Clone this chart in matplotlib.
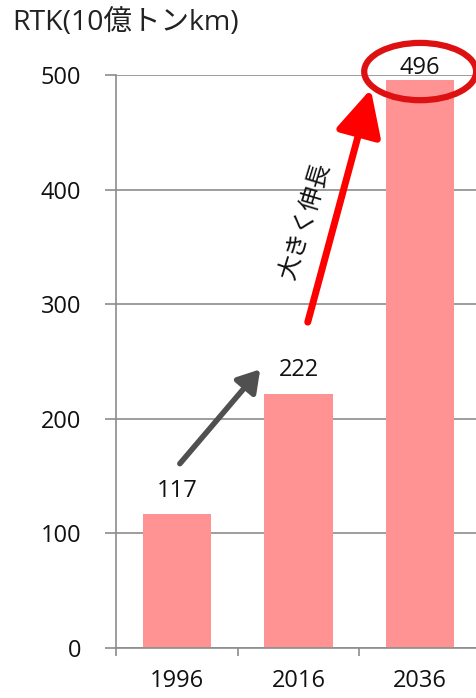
import matplotlib
matplotlib.use("Agg")
import matplotlib.pyplot as plt
from matplotlib.patches import Ellipse, FancyArrowPatch

plt.rcParams['font.family'] = ['Open Sans', 'Noto Sans CJK JP', 'DejaVu Sans']

years = ["1996", "2016", "2036"]
rtk = [117, 222, 496]
yticks = [0, 100, 200, 300, 400, 500]
title = "RTK(10億トンkm)"
note = "大きく伸長"

fig = plt.figure(figsize=(4.77, 6.98), dpi=100)
W, H = 477, 698
left, right, bottom, top = 116, 481, 648, 75
ax = fig.add_axes([left / W, 1 - bottom / H, (right - left) / W, (bottom - top) / H])

x = list(range(len(years)))
ax.bar(x, rtk, width=0.56, color="#FF9393", zorder=2)
ax.set_xlim(-0.5, 2.5)
ax.set_ylim(0, 500)
ax.set_yticks(yticks)
ax.set_yticklabels([str(v) for v in yticks], fontsize=17, color="#111111")
ax.yaxis.grid(True, color="#8c8c8c", linewidth=1.2, zorder=0)
ax.set_axisbelow(True)
ax.tick_params(axis='y', length=8, width=1.2, color="#8c8c8c", pad=17)

ax.set_xticks(x)
ax.set_xticklabels(years, fontsize=17, color="#111111")
ax.tick_params(axis='x', which='major', length=0, pad=15)
ax.set_xticks([-0.5, 0.5, 1.5, 2.5], minor=True)
ax.tick_params(axis='x', which='minor', length=6, width=1.2, color="#8c8c8c", direction='out')

for s in ['top', 'right']:
    ax.spines[s].set_visible(False)
for s in ['left', 'bottom']:
    ax.spines[s].set_color("#8c8c8c")
    ax.spines[s].set_linewidth(1.2)

label_offsets = [8, 8, 0]
for xi, v, off in zip(x, rtk, label_offsets):
    ax.annotate(str(v), (xi, v), xytext=(0, off), textcoords='offset points',
                ha='center', va='bottom', fontsize=17,
                color="#111111", annotation_clip=False, zorder=8)

fig.text(12 / W, 1 - 23 / H, title, fontsize=20.5, va='center', ha='left', color="#222222")

gray = FancyArrowPatch((0.01, 159), (0.70, 245), arrowstyle='-|>,head_length=13,head_width=8',
                       mutation_scale=1, color="#505050", linewidth=4, clip_on=False, zorder=5)
ax.add_patch(gray)
red = FancyArrowPatch((1.07, 282), (1.60, 490), arrowstyle='-|>,head_length=28,head_width=14',
                      mutation_scale=1, color="#FF0000", linewidth=5, clip_on=False, zorder=5)
ax.add_patch(red)

ax.text(1.05, 373, note, rotation=73, ha='center', va='center', fontsize=17.5, color="#111111",
        rotation_mode='anchor', family=['Noto Sans CJK JP', 'DejaVu Sans'])

ell = Ellipse((2.0, 503), 0.92, 50, fill=False, edgecolor="#DD1111", linewidth=4.5,
              clip_on=False, zorder=6)
ax.add_patch(ell)

fig.savefig("out.png", dpi=100, facecolor="white")
